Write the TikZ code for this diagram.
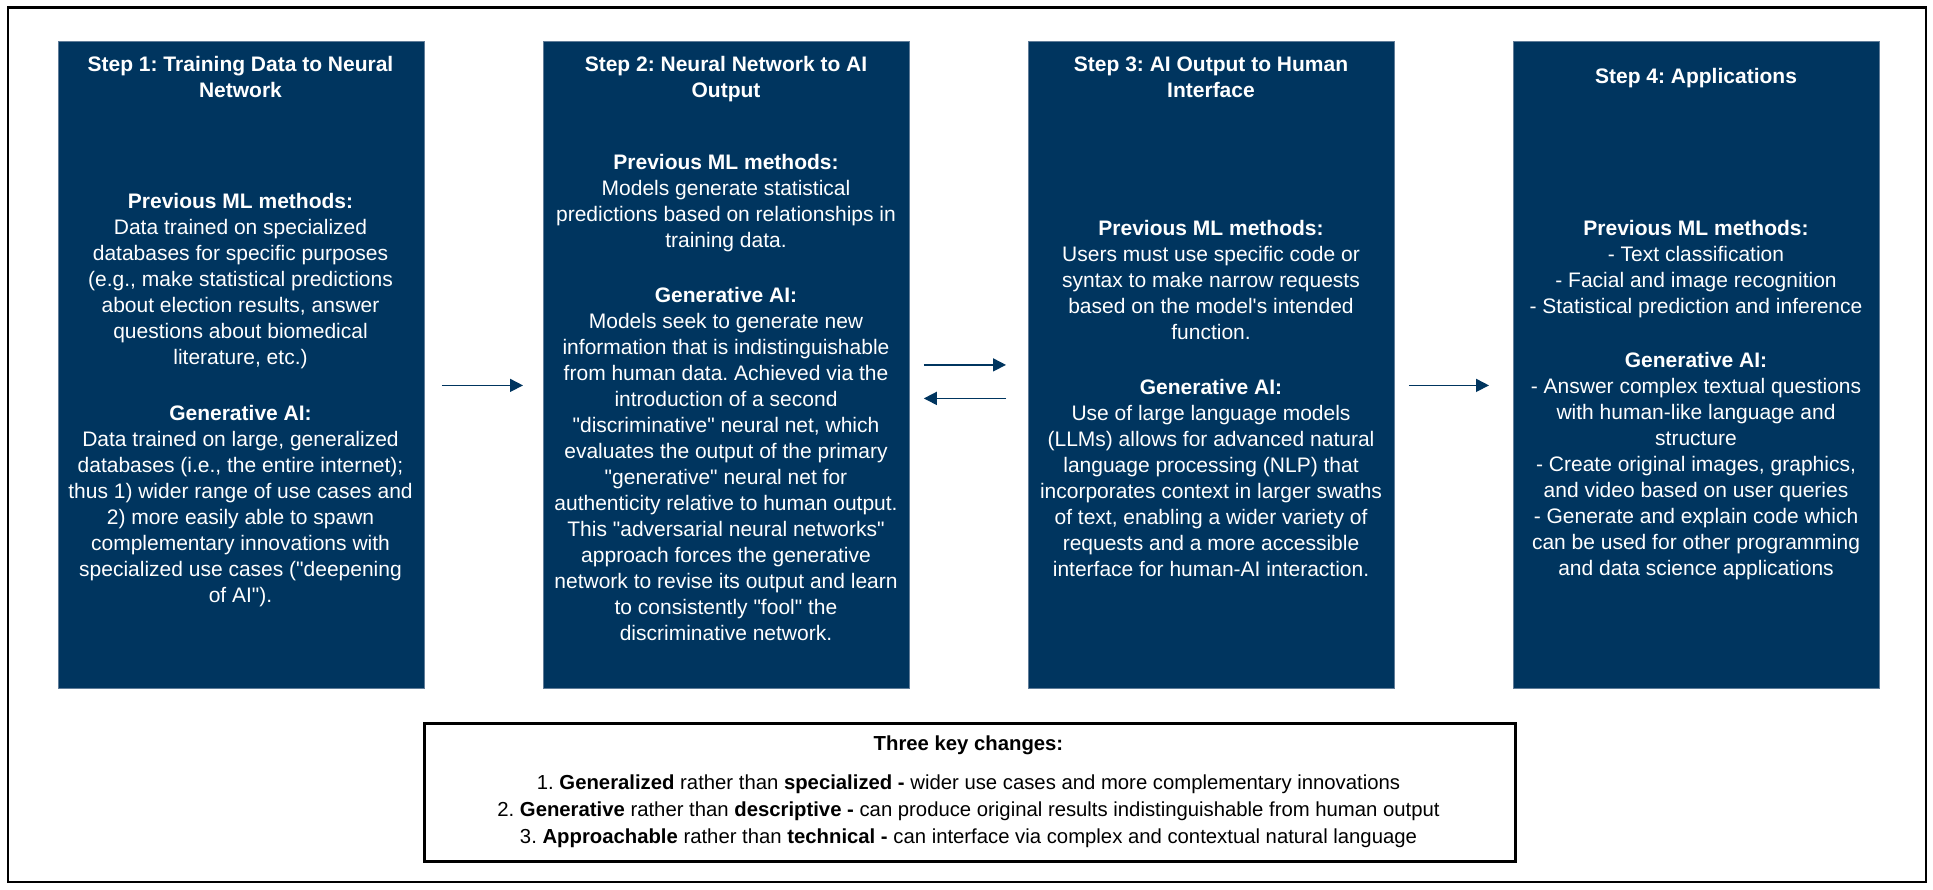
\documentclass[tikz,border=0pt]{standalone}
\usepackage{fontspec}
\setmainfont{Liberation Sans}[Ligatures=TeXOff]
\usetikzlibrary{arrows.meta}
\frenchspacing

\definecolor{navy}{RGB}{0,53,95}
\definecolor{navyedge}{RGB}{96,124,152}

% centred block of lines whose reference point is the first baseline
\newcommand\txtblock[1]{\begin{tabular}[t]{@{}c@{}}#1\end{tabular}}
% straight double quote
\newcommand\qq{\symbol{34}}

\tikzset{
  stepbox/.style={fill=navy, draw=navyedge, line width=0.8pt, inner sep=0pt,
    minimum width=366pt, minimum height=647pt, anchor=north west},
  boxtext/.style={text=white, inner sep=0pt, anchor=base,
    font=\fontsize{21}{26}\selectfont},
  keytext/.style={text=black, inner sep=0pt, anchor=base,
    font=\fontsize{20.3}{27}\selectfont},
  flow/.style={draw=navy, line width=1.6pt, -{Triangle[length=13pt,width=13pt]}},
  keybox/.style={draw=black, line width=2.5pt, inner sep=0pt,
    minimum width=1091pt, minimum height=138pt, anchor=north west},
  frame/.style={draw=black, line width=2.5pt}
}

\begin{document}
\begin{tikzpicture}[x=1pt,y=-1pt]
\useasboundingbox (0,0) rectangle (1933,889);
\fill[white] (0,0) rectangle (1933,889);
\draw[frame] (8,7.5) rectangle (1926,882);

% the four steps
\node[stepbox] (b1) at (58,41) {};
\node[stepbox] (b2) at (543,41) {};
\node[stepbox] (b3) at (1028,41) {};
\node[stepbox] (b4) at (1513,41) {};

% step 1
\node[boxtext] (t1) at (240.5,71) {\txtblock{\textbf{Step 1: Training Data to Neural}\\\textbf{Network}}};
\node[boxtext] (p1) at (240.5,208) {\txtblock{\textbf{Previous ML methods:}\\
Data trained on specialized\\
databases for specific purposes\\
(e.g., make statistical predictions\\
about election results, answer\\
questions about biomedical\\
literature, etc.)}};
\node[boxtext] (g1) at (240.5,420) {\txtblock{\textbf{Generative AI:}\\
Data trained on large, generalized\\
databases (i.e., the entire internet);\\
thus 1) wider range of use cases and\\
2) more easily able to spawn\\
complementary innovations with\\
specialized use cases (\qq deepening\\
of AI\qq).}};

% step 2
\node[boxtext] (t2) at (726,71) {\txtblock{\textbf{Step 2: Neural Network to AI}\\\textbf{Output}}};
\node[boxtext] (p2) at (726,169) {\txtblock{\textbf{Previous ML methods:}\\
Models generate statistical\\
predictions based on relationships in\\
training data.}};
\node[boxtext] (g2) at (726,302) {\txtblock{\textbf{Generative AI:}\\
Models seek to generate new\\
information that is indistinguishable\\
from human data. Achieved via the\\
introduction of a second\\
\qq discriminative\qq{} neural net, which\\
evaluates the output of the primary\\
\qq generative\qq{} neural net for\\
authenticity relative to human output.\\
This \qq adversarial neural networks\qq\\
approach forces the generative\\
network to revise its output and learn\\
to consistently \qq fool\qq{} the\\
discriminative network.}};

% step 3
\node[boxtext] (t3) at (1211,71) {\txtblock{\textbf{Step 3: AI Output to Human}\\\textbf{Interface}}};
\node[boxtext] (p3) at (1211,235) {\txtblock{\textbf{Previous ML methods:}\\
Users must use specific code or\\
syntax to make narrow requests\\
based on the model's intended\\
function.}};
\node[boxtext] (g3) at (1211,394) {\txtblock{\textbf{Generative AI:}\\
Use of large language models\\
(LLMs) allows for advanced natural\\
language processing (NLP) that\\
incorporates context in larger swaths\\
of text, enabling a wider variety of\\
requests and a more accessible\\
interface for human-AI interaction.}};

% step 4
\node[boxtext] (t4) at (1696,83) {\txtblock{\textbf{Step 4: Applications}}};
\node[boxtext] (p4) at (1696,235) {\txtblock{\textbf{Previous ML methods:}\\
- Text classification\\
- Facial and image recognition\\
- Statistical prediction and inference}};
\node[boxtext] (g4) at (1696,367) {\txtblock{\textbf{Generative AI:}\\
- Answer complex textual questions\\
with human-like language and\\
structure\\
- Create original images, graphics,\\
and video based on user queries\\
- Generate and explain code which\\
can be used for other programming\\
and data science applications}};

% connectors between the steps
\draw[flow] ([xshift=17pt,yshift=-20.5pt]b1.east) -- ([xshift=-20pt,yshift=-20.5pt]b2.west);
\draw[flow] ([xshift=14pt]b2.east) -- ([xshift=-22pt]b3.west);
\draw[flow] ([xshift=-22pt,yshift=-33.5pt]b3.west) -- ([xshift=14pt,yshift=-33.5pt]b2.east);
\draw[flow] ([xshift=14pt,yshift=-20.5pt]b3.east) -- ([xshift=-24pt,yshift=-20.5pt]b4.west);

% summary of the three key changes
\node[keybox] (keys) at (423,722) {};
\node[keytext] (kt) at (968.5,750) {\textbf{Three key changes:}};
\node[keytext] (kl) at (968.5,789) {\txtblock{%
1. \textbf{Generalized} rather than \textbf{specialized -} wider use cases and more complementary innovations\\
2. \textbf{Generative} rather than \textbf{descriptive -} can produce original results indistinguishable from human output\\
3. \textbf{Approachable} rather than \textbf{technical -} can interface via complex and contextual natural language}};
\end{tikzpicture}
\end{document}
